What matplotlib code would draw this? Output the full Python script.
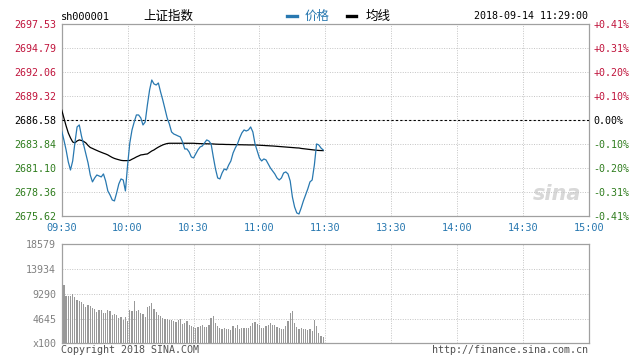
import matplotlib
matplotlib.use('Agg')
import matplotlib.pyplot as plt
import numpy as np

# ---- data ----
prev_close = 2686.58

price = [2685.32, 2684.30, 2683.16, 2681.79, 2680.87, 2681.90, 2683.96, 2685.78, 2686.01, 2684.75,
         2683.73, 2682.70, 2681.67, 2680.30, 2679.51, 2679.96, 2680.30, 2680.19, 2680.08, 2680.42,
         2679.62, 2678.48, 2678.02, 2677.45, 2677.34, 2678.25, 2679.28, 2679.85, 2679.73, 2678.48,
         2681.44, 2683.96, 2685.44, 2686.35, 2687.15, 2687.15, 2686.81, 2686.01, 2686.35, 2688.29,
         2690.00, 2691.14, 2690.69, 2690.57, 2690.80, 2689.78, 2688.86, 2687.84, 2686.81, 2686.12,
         2685.21, 2684.98, 2684.87, 2684.75, 2684.64, 2684.07, 2683.27, 2683.27, 2682.93, 2682.36,
         2682.24, 2682.70, 2683.16, 2683.50, 2683.61, 2683.96, 2684.30, 2684.18, 2683.84, 2682.36,
         2680.99, 2679.96, 2679.85, 2680.53, 2680.99, 2680.87, 2681.44, 2681.90, 2682.81, 2683.38,
         2683.84, 2684.53, 2685.10, 2685.44, 2685.32, 2685.44, 2685.78, 2685.21, 2683.84, 2683.04,
         2682.24, 2681.90, 2682.13, 2682.02, 2681.56, 2681.10, 2680.76, 2680.42, 2679.96, 2679.73,
         2679.96, 2680.53, 2680.65, 2680.42, 2679.62, 2677.79, 2676.65, 2675.97, 2675.85, 2676.54,
         2677.34, 2678.02, 2678.71, 2679.51, 2679.73, 2681.44, 2683.84, 2683.73, 2683.38, 2683.16]

avg = [2687.72, 2686.81, 2685.90, 2685.10, 2684.53, 2684.07, 2683.96, 2684.18, 2684.30, 2684.24,
       2684.13, 2683.96, 2683.67, 2683.44, 2683.33, 2683.21, 2683.10, 2682.99, 2682.89, 2682.79,
       2682.70, 2682.59, 2682.44, 2682.30, 2682.19, 2682.11, 2682.04, 2681.97, 2681.94, 2681.94,
       2681.94, 2681.96, 2682.10, 2682.22, 2682.36, 2682.47, 2682.59, 2682.62, 2682.67, 2682.70,
       2682.87, 2683.04, 2683.16, 2683.33, 2683.48, 2683.61, 2683.73, 2683.82, 2683.89, 2683.92,
       2683.92, 2683.92, 2683.92, 2683.92, 2683.92, 2683.92, 2683.92, 2683.92, 2683.92, 2683.92,
       2683.92, 2683.90, 2683.89, 2683.88, 2683.87, 2683.86, 2683.86, 2683.85, 2683.85, 2683.84,
       2683.82, 2683.81, 2683.80, 2683.80, 2683.79, 2683.78, 2683.78, 2683.77, 2683.77, 2683.76,
       2683.76, 2683.75, 2683.75, 2683.74, 2683.74, 2683.73, 2683.73, 2683.73, 2683.73, 2683.71,
       2683.70, 2683.68, 2683.67, 2683.65, 2683.64, 2683.62, 2683.61, 2683.59, 2683.57, 2683.55,
       2683.53, 2683.51, 2683.49, 2683.47, 2683.45, 2683.43, 2683.41, 2683.39, 2683.38, 2683.33,
       2683.30, 2683.27, 2683.24, 2683.21, 2683.18, 2683.15, 2683.12, 2683.10, 2683.09, 2683.08]

volume = [18579, 10950, 8950, 8950, 8950, 9250, 8700, 8100, 7900, 7800,
          7400, 6900, 7200, 7000, 6600, 6400, 5900, 6300, 6300, 5700,
          5700, 6200, 6100, 5300, 5500, 5400, 4800, 4900, 4300, 5000,
          4200, 6200, 6100, 8000, 6100, 6300, 5600, 5500, 5000, 6800,
          7000, 7600, 6500, 5800, 5400, 5100, 4800, 4600, 4500, 4400,
          4300, 4100, 4000, 4400, 4500, 3700, 3900, 4200, 3500, 3200,
          3000, 2800, 3100, 3200, 3500, 3000, 3100, 3500, 4700, 5100,
          3800, 3300, 2800, 2600, 2800, 2700, 2600, 2500, 3200, 2900,
          3400, 2700, 2800, 2900, 2900, 2800, 3200, 3800, 4000, 3600,
          3400, 2900, 2800, 3200, 3400, 3900, 3500, 3500, 3000, 2800,
          2600, 2600, 3300, 4200, 5600, 6100, 3800, 3000, 2600, 2800,
          2600, 2700, 2500, 2700, 2300, 4400, 3200, 2000, 1400, 1200]

price_ticks = [2675.62, 2678.36, 2681.10, 2683.84, 2686.58, 2689.32, 2692.06, 2694.79, 2697.53]
time_labels = ['09:30', '10:00', '10:30', '11:00', '11:30', '13:30', '14:00', '14:30', '15:00']
vol_ticks = [0, 4645, 9290, 13934, 18579]
vol_labels = ['x100', '4645', '9290', '13934', '18579']

minutes = np.arange(len(price))
W, H = 642, 360

RED = '#c0143c'
GREEN = '#2f7d1e'
BLUE = '#2878b0'
GRID = '#c4c4c4'
SPINE = '#a0a0a0'
MONO = 'DejaVu Sans Mono'
CJK = ['Noto Sans CJK SC', 'DejaVu Sans']

fig = plt.figure(figsize=(W / 100, H / 100), dpi=100)

def fpos(x0, y0, x1, y1):
    return [x0 / W, 1 - y1 / H, (x1 - x0) / W, (y1 - y0) / H]

def style(a):
    for s in a.spines.values():
        s.set_color(SPINE)
        s.set_linewidth(0.9)
    a.set_xlim(0, 240)
    a.set_xticks(np.arange(0, 241, 30))
    a.grid(True, color=GRID, lw=0.7, linestyle=(0, (1, 1.5)))
    a.tick_params(length=0)

# ---- price panel ----
ax = fig.add_axes(fpos(61.7, 24, 589, 216))
style(ax)
ax.set_ylim(price_ticks[0], price_ticks[-1])
ax.set_yticks(price_ticks)
ax.set_yticklabels(['%.2f' % v for v in price_ticks], family=MONO, fontsize=7.2)
for lab, v in zip(ax.get_yticklabels(), price_ticks):
    lab.set_color(RED if v > prev_close + 0.001 else (GREEN if v < prev_close - 0.001 else 'black'))
ax.set_xticklabels(time_labels, family=MONO, fontsize=7.4, color=BLUE)
ax.tick_params(axis='y', pad=4)
ax.tick_params(axis='x', pad=5)
ax.axhline(prev_close, color='black', lw=0.8, linestyle=(0, (2, 2)), zorder=3)

ax.plot(minutes, avg, color='black', lw=0.9, zorder=4)
ax.plot(minutes, price, color=BLUE, lw=0.9, zorder=5)

axr = ax.twinx()
axr.set_ylim(price_ticks[0], price_ticks[-1])
axr.set_yticks(price_ticks)
pct = [(v - prev_close) / prev_close * 100 for v in price_ticks]
axr.set_yticklabels([('%+.2f%%' % p) if abs(p) > 0.001 else '0.00%' for p in pct],
                    family=MONO, fontsize=7.2)
for lab, p in zip(axr.get_yticklabels(), pct):
    lab.set_color(RED if p > 0.001 else (GREEN if p < -0.001 else 'black'))
axr.tick_params(length=0, pad=3)
for s in axr.spines.values():
    s.set_visible(False)

# faint sina watermark
ax.text(0.985, 0.06, 'sina', transform=ax.transAxes, ha='right', va='bottom',
        fontsize=15, style='italic', fontweight='bold', color='#d8d8d8', zorder=1)

# ---- volume panel ----
av = fig.add_axes(fpos(61.7, 244.3, 589, 343.3))
style(av)
av.set_ylim(0, vol_ticks[-1])
av.set_yticks(vol_ticks)
av.set_yticklabels(vol_labels, family=MONO, fontsize=7.2, color='#808080')
av.set_xticklabels([])
av.tick_params(axis='y', pad=4)
av.bar(minutes, volume, width=0.55, color='#999999', linewidth=0, zorder=3)

# ---- header / footer text ----
def ftext(x, y, s, **kw):
    fig.text(x / W, 1 - y / H, s, **kw)

ftext(61, 17, 'sh000001', family=MONO, fontsize=7.4, va='center', ha='left')
ftext(168, 16.5, '上证指数', family=CJK, fontsize=9, va='center', ha='center')
fig.add_artist(plt.Line2D([287 / W, 297 / W], [1 - 16 / H] * 2, color=BLUE, lw=2.4))
ftext(305, 16.5, '价格', family=CJK, fontsize=9, va='center', ha='left', color=BLUE)
fig.add_artist(plt.Line2D([347 / W, 356 / W], [1 - 16 / H] * 2, color='black', lw=2.4))
ftext(366, 16.5, '均线', family=CJK, fontsize=9, va='center', ha='left')
ftext(588, 16, '2018-09-14 11:29:00', family=MONO, fontsize=7.2, va='center', ha='right')
ftext(61, 350, 'Copyright 2018 SINA.COM', family=MONO, fontsize=7.2, va='center', ha='left',
      color='#505050')
ftext(588, 350, 'http://finance.sina.com.cn', family=MONO, fontsize=7.2, va='center', ha='right',
      color='#505050')

fig.savefig('out.png', dpi=100, facecolor='white')
